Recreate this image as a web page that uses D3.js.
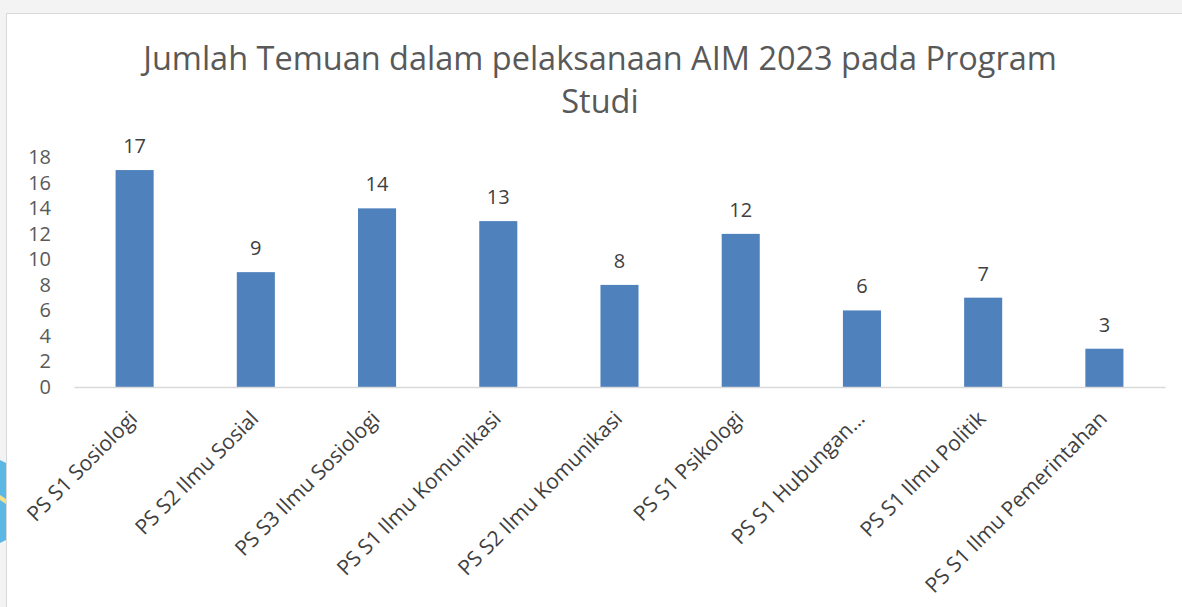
<!DOCTYPE html>
<html>
<head>
<meta charset="utf-8">
<script src="https://cdn.jsdelivr.net/npm/d3@7"></script>
<style>
  html, body { margin: 0; padding: 0; background: #f3f3f3; }
  svg { display: block; }
</style>
</head>
<body>
<svg id="chart" width="1182" height="607"></svg>
<script>
const titleLines = ["Jumlah Temuan dalam pelaksanaan AIM 2023 pada Program", "Studi"];
const categories = [
  "PS S1 Sosiologi",
  "PS S2 Ilmu Sosial",
  "PS S3 Ilmu Sosiologi",
  "PS S1 Ilmu Komunikasi",
  "PS S2 Ilmu Komunikasi",
  "PS S1 Psikologi",
  "PS S1 Hubungan…",
  "PS S1 Ilmu Politik",
  "PS S1 Ilmu Pemerintahan"
];
const values = [17, 9, 14, 13, 8, 12, 6, 7, 3];
const yTicks = [0, 2, 4, 6, 8, 10, 12, 14, 16, 18];

const W = 1182, H = 607;
const svg = d3.select("#chart");
const font = "'Open Sans', 'Liberation Sans', sans-serif";

// slide background + chart frame
svg.append("rect").attr("x", 0).attr("y", 0).attr("width", W).attr("height", H).attr("fill", "#f3f3f3");
svg.append("path").attr("d", "M0,460 L6,463 L6,540 L0,543 Z").attr("fill", "#5bb8e4");
svg.append("path").attr("d", "M0,495 L6,499 L6,504 L0,500 Z").attr("fill", "#f3e08a");
svg.append("rect").attr("x", 6.5).attr("y", 13.5).attr("width", W).attr("height", H)
  .attr("fill", "#ffffff").attr("stroke", "#d9d9d9").attr("stroke-width", 1);

const x = d3.scaleBand().domain(categories).range([74, 1165]).paddingInner(0.686).paddingOuter(0.343);
const y = d3.scaleLinear().domain([0, 18]).range([387, 157.3]);

// title
const title = svg.append("g");
const t1 = title.append("text").attr("x", 600).attr("y", 70).attr("text-anchor", "middle")
  .attr("fill", "#595959").style("font-family", font).style("font-size", "32px").text(titleLines[0]);
const w1 = t1.node().getComputedTextLength();
const fs = 32 * 914 / w1;
t1.style("font-size", fs + "px");
title.append("text").attr("x", 600).attr("y", 113).attr("text-anchor", "middle")
  .attr("fill", "#595959").style("font-family", font).style("font-size", fs + "px").text(titleLines[1]);

// y axis (labels only)
const yAxis = d3.axisLeft(y).tickValues(yTicks).tickSize(0).tickPadding(0);
const gy = svg.append("g").attr("transform", "translate(51,0)").call(yAxis);
gy.select(".domain").remove();
gy.selectAll("text").attr("fill", "#595959").style("font-family", font).style("font-size", "20px");

// bars
svg.append("g").selectAll("rect").data(values).join("rect")
  .attr("x", (d, i) => x(categories[i]))
  .attr("width", x.bandwidth())
  .attr("y", d => y(d))
  .attr("height", d => y(0) - y(d))
  .attr("fill", "#4f81bd");

// baseline
const xAxis = d3.axisBottom(x).tickSize(0).tickFormat("");
const gx = svg.append("g").attr("transform", "translate(0,387)").call(xAxis);
gx.select(".domain").attr("stroke", "#d9d9d9").attr("stroke-width", 1.5);

// category labels
svg.append("g").selectAll("text").data(categories).join("text")
  .attr("transform", d => `translate(${x(d) + x.bandwidth() / 2 + 4},420) rotate(-45)`)
  .attr("text-anchor", "end")
  .attr("fill", "#404040")
  .style("font-family", font).style("font-size", "21px")
  .text(d => d);

// data labels
svg.append("g").selectAll("text").data(values).join("text")
  .attr("x", (d, i) => x(categories[i]) + x.bandwidth() / 2)
  .attr("y", d => y(d) - 17)
  .attr("text-anchor", "middle")
  .attr("fill", "#404040")
  .style("font-family", font).style("font-size", "20px")
  .text(d => d);
</script>
</body>
</html>
